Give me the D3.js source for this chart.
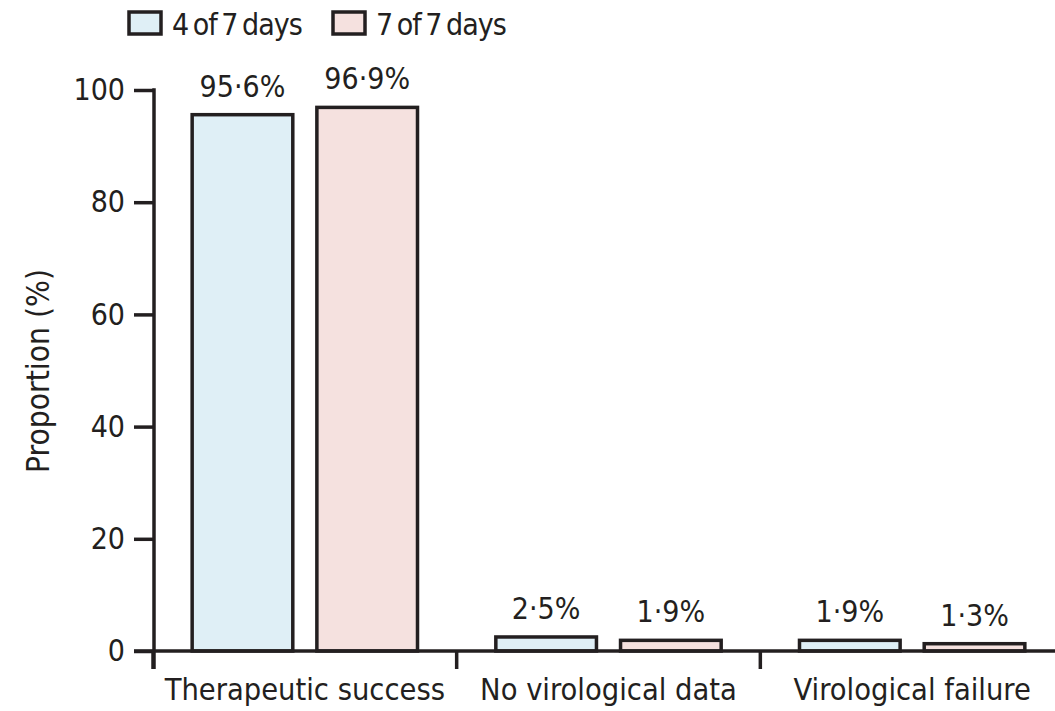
<!DOCTYPE html>
<html>
<head>
<meta charset="utf-8">
<script src="https://cdn.jsdelivr.net/npm/d3@7"></script>
<style>
  html, body { margin: 0; padding: 0; background: #ffffff; }
  svg { display: block; }
  text { font-family: "DejaVu Sans Condensed", "DejaVu Sans", sans-serif; font-stretch: condensed; fill: #231f20; }
</style>
</head>
<body>
<svg id="chart" width="1055" height="711"></svg>
<script>
const categories = ["Therapeutic success", "No virological data", "Virological failure"];
const seriesNames = ["4 of 7 days", "7 of 7 days"];
const series4of7 = [95.6, 2.5, 1.9];
const series7of7 = [96.9, 1.9, 1.3];
const valueLabels4of7 = ["95·6%", "2·5%", "1·9%"];
const valueLabels7of7 = ["96·9%", "1·9%", "1·3%"];
const yTicks = [0, 20, 40, 60, 80, 100];
const seriesColors = ["#dfeff6", "#f5e1df"];

const ink = "#231f20";
const svg = d3.select("#chart");
const W = 1055, H = 711;

const x = d3.scaleBand().domain(categories).range([153, 1064]).paddingInner(0).paddingOuter(0);
const xs = d3.scaleBand().domain(seriesNames).range([0, x.bandwidth()]).paddingInner(0.165).paddingOuter(0.3);
const y = d3.scaleLinear().domain([0, 100]).range([651, 90]);

const rows = categories.map((c, i) => ({
  cat: c,
  vals: [
    { s: seriesNames[0], v: series4of7[i], lab: valueLabels4of7[i], col: seriesColors[0] },
    { s: seriesNames[1], v: series7of7[i], lab: valueLabels7of7[i], col: seriesColors[1] }
  ]
}));

const sw = 3.5;
// bars
const g = svg.append("g");
const groups = g.selectAll("g.cat").data(rows).join("g")
  .attr("transform", d => `translate(${x(d.cat)},0)`);
groups.selectAll("rect").data(d => d.vals).join("rect")
  .attr("x", d => xs(d.s) + sw / 2)
  .attr("width", xs.bandwidth() - sw)
  .attr("y", d => y(d.v))
  .attr("height", d => y(0) - y(d.v))
  .attr("fill", d => d.col)
  .attr("stroke", ink)
  .attr("stroke-width", sw);
groups.selectAll("text").data(d => d.vals).join("text")
  .attr("x", d => xs(d.s) + xs.bandwidth() / 2)
  .attr("y", d => y(d.v) - 18)
  .attr("text-anchor", "middle")
  .attr("font-size", 30)
  .text(d => d.lab);

// y axis
const yAxis = d3.axisLeft(y).tickValues(yTicks).tickSize(20).tickPadding(9).tickFormat(d3.format("d"));
const ya = svg.append("g").attr("transform", "translate(154,0)").call(yAxis);
ya.select(".domain").remove();
ya.selectAll("line").attr("stroke", ink).attr("stroke-width", sw);
ya.selectAll("text").attr("font-size", 30).attr("fill", ink).style("font-family", null);
svg.append("line")
  .attr("x1", 154).attr("x2", 154)
  .attr("y1", y(100) - sw / 2).attr("y2", y(0) + 18)
  .attr("stroke", ink).attr("stroke-width", sw);

// x axis
svg.append("line")
  .attr("x1", 134).attr("x2", W)
  .attr("y1", y(0)).attr("y2", y(0))
  .attr("stroke", ink).attr("stroke-width", sw);
svg.append("g").selectAll("line").data(categories).join("line")
  .attr("x1", d => x(d)).attr("x2", d => x(d))
  .attr("y1", y(0)).attr("y2", y(0) + 18)
  .attr("stroke", ink).attr("stroke-width", sw);
svg.append("g").selectAll("text").data(categories).join("text")
  .attr("x", d => x(d) + x.bandwidth() / 2)
  .attr("y", 700)
  .attr("text-anchor", "middle")
  .attr("font-size", 30.5)
  .text(d => d);

// y label
svg.append("text")
  .attr("transform", "translate(49,371) rotate(-90)")
  .attr("text-anchor", "middle")
  .attr("font-size", 31.5)
  .text("Proportion (%)");

// legend
const leg = svg.append("g");
const legX = [129, 333];
seriesNames.forEach((s, i) => {
  leg.append("rect")
    .attr("x", legX[i]).attr("y", 12)
    .attr("width", 32).attr("height", 22)
    .attr("fill", seriesColors[i])
    .attr("stroke", ink).attr("stroke-width", sw);
  leg.append("text")
    .attr("x", legX[i] + 43).attr("y", 35)
    .attr("font-size", 30)
    .attr("word-spacing", -3)
    .attr("letter-spacing", -1)
    .text(s);
});
</script>
</body>
</html>
